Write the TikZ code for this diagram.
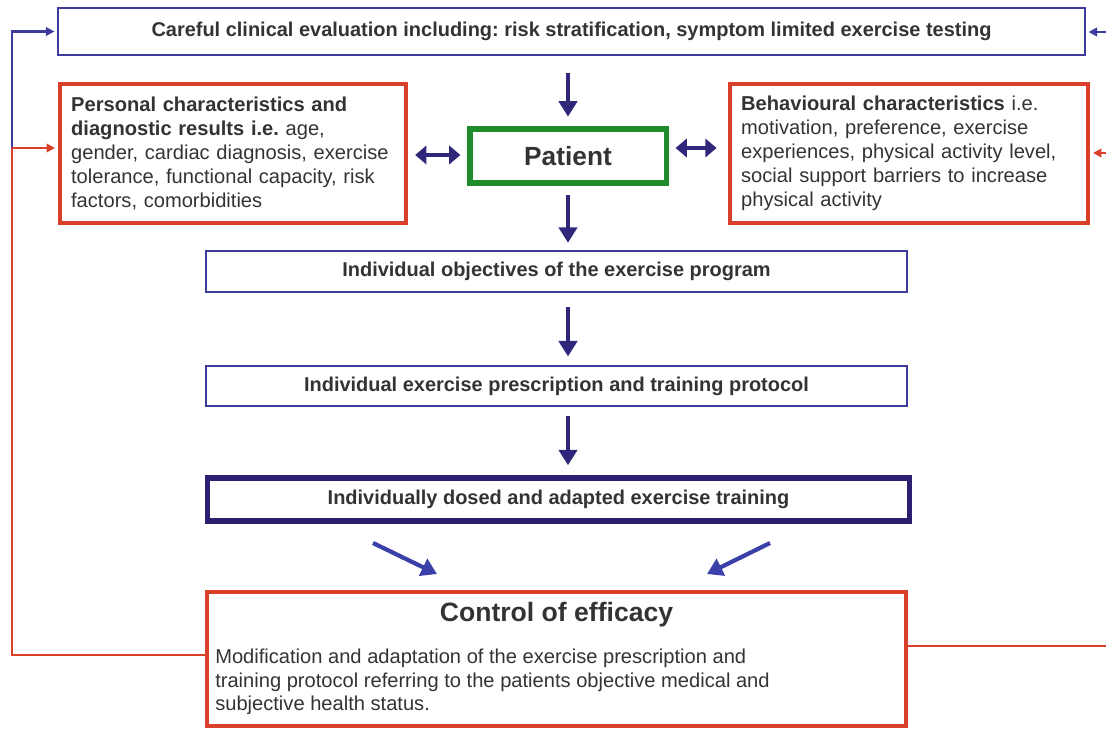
\documentclass[tikz,border=0pt]{standalone}
\usepackage{fontspec}
\setmainfont{Liberation Sans}
\usetikzlibrary{arrows.meta, positioning}

\definecolor{frameblue}{HTML}{3E3B9E}
\definecolor{framered}{HTML}{D8402C}
\definecolor{framegreen}{HTML}{1F8C2B}
\definecolor{framenavy}{HTML}{2C1F70}
\definecolor{arrownavy}{HTML}{2F2779}
\definecolor{arrowblue}{HTML}{3B3FA8}
\definecolor{textgray}{HTML}{333333}

\frenchspacing
\begin{document}
\begin{tikzpicture}[
x=0.025cm, y=-0.025cm,
box/.style={rectangle, draw, text centered, inner sep=0pt, text=textgray},
box-thin/.style={box, draw=frameblue, line width=1.6pt,
font=\bfseries\fontsize{14.2}{16}\selectfont, minimum width=17.53cm, minimum height=1.03cm},
box-red/.style={box, draw=framered, line width=3pt, align=left, inner xsep=0.28cm,
font=\fontsize{14.3}{17}\selectfont, minimum height=3.48cm},
line/.style={draw, line width=1.6pt},
flow/.style={draw=arrownavy, line width=2.6pt, -{Triangle[length=11pt, width=13pt]}},
both/.style={draw=arrownavy, line width=2.4pt, {Triangle[length=8pt, width=13pt]}-{Triangle[length=8pt, width=13pt]}},
slant/.style={draw=arrowblue, line width=3pt, -{Triangle[length=11pt, width=13pt]}}
]
\useasboundingbox (0,0) rectangle (1106,730);

% boxes
\node [box-thin, minimum width=25.65cm, minimum height=1.18cm] (eval) at (571.5,31.5)
{Careful clinical evaluation including: risk stratification, symptom limited exercise testing};
\node [box-red, text width=8.09cm] (personal) at (233,153.5)
{\textbf{Personal characteristics and}\\
\textbf{diagnostic results i.e.} age,\\
gender, cardiac diagnosis, exercise\\
tolerance, functional capacity, risk\\
factors, comorbidities};
\node [box, draw=framegreen, line width=3.6pt, minimum width=4.9cm, minimum height=1.35cm,
font=\bfseries\fontsize{18.7}{20}\selectfont] (patient) at (568,156) {Patient};
\node [box-red, text width=8.39cm] (behaviour) at (909,153.5)
{\textbf{Behavioural characteristics} i.e.\\
motivation, preference, exercise\\
experiences, physical activity level,\\
social support barriers to increase\\
physical activity};
\node [box-thin] (objectives) at (556.5,271.5) {Individual objectives of the exercise program};
\node [box-thin, minimum height=1.0cm] (prescription) at (556.5,386)
{Individual exercise prescription and training protocol};
\node [box-thin, draw=framenavy, line width=4pt, minimum width=17.55cm, minimum height=1.08cm]
(training) at (558.5,499.5) {Individually dosed and adapted exercise training};
\node [box, draw=framered, line width=3pt, minimum width=17.48cm, minimum height=3.35cm] (control) at (556.5,659) {};
\node [text=textgray, font=\bfseries\fontsize{18.9}{20}\selectfont, below=5.5pt of control.north] (control-title)
{Control of efficacy};
\node [text=textgray, font=\fontsize{14.3}{16.7}\selectfont, align=left, anchor=north west, inner sep=0pt]
(control-body) at (215,649)
{Modification and adaptation of the exercise prescription and\\
training protocol referring to the patients objective medical and\\
subjective health status.};

% feedback loop
\coordinate (loop-left) at (12,148);
\coordinate (loop-bottom) at (12,655);
\coordinate (loop-right) at (1106,646);
\coordinate (right-top) at (1106,32);
\coordinate (right-mid) at (1106,153);
\path [line, draw=frameblue, -{Triangle[length=6pt, width=6pt]}, shorten >=2pt] (loop-left) |- (eval.west);
\path [line, draw=framered] (control.west |- loop-bottom) -| (loop-left);
\path [line, draw=framered, -{Triangle[length=6pt, width=6pt]}, shorten >=2pt] (loop-left) -- (personal.west |- loop-left);
\path [line, draw=framered] (control.east |- loop-right) -- (loop-right);
\path [line, draw=frameblue, -{Triangle[length=6pt, width=6pt]}, shorten >=2pt] (right-top) -- (eval.east |- right-top);
\path [line, draw=framered, -{Triangle[length=6pt, width=6pt]}, shorten >=2pt] (right-mid) -- (behaviour.east |- right-mid);

% flow
\path [flow, shorten <=12pt, shorten >=7pt] (patient.north |- eval.south) -- (patient.north);
\path [flow, shorten <=7pt, shorten >=5pt] (patient.south) -- (patient.south |- objectives.north);
\path [flow, shorten <=10pt, shorten >=6pt] (patient.south |- objectives.south) -- (patient.south |- prescription.north);
\path [flow, shorten <=6pt, shorten >=7pt] (patient.south |- prescription.south) -- (patient.south |- training.north);
\path [both, shorten <=5pt, shorten >=5pt] (personal.east |- 0,155) -- (patient.west |- 0,155);
\path [both, shorten <=5pt, shorten >=8pt] (patient.east |- 0,148) -- (behaviour.west |- 0,148);
\coordinate (slant-left) at (373,543);
\coordinate (slant-right) at (770,543);
\path [slant] (slant-left) -- (437,574);
\path [slant] (slant-right) -- (707,574);

\end{tikzpicture}
\end{document}
